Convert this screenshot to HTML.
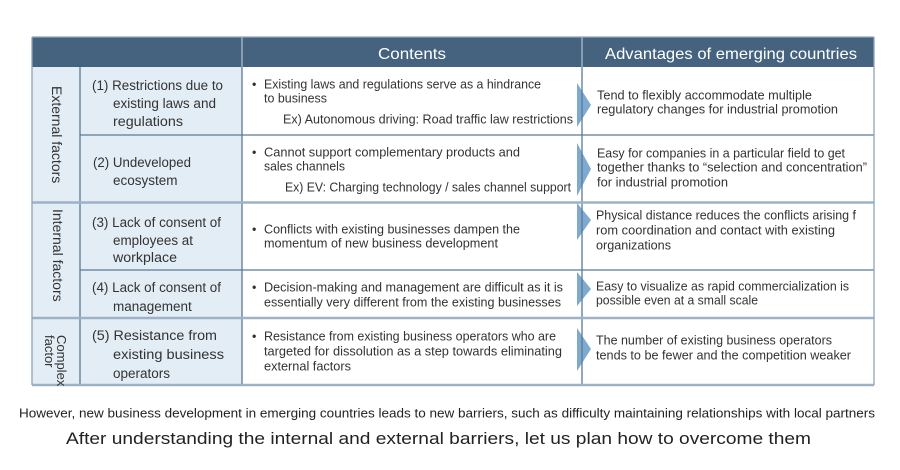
<!DOCTYPE html>
<html>
<head>
<meta charset="utf-8">
<style>
html,body{margin:0;padding:0;background:#fff;}
svg{display:block;}
text{font-family:"Liberation Sans", sans-serif;fill:#333;}
.h{fill:#ffffff;font-size:16px;}
.c{font-size:13.5px;}
.m{font-size:12.5px;}
.cat{font-size:14px;}
</style>
</head>
<body>
<svg width="900" height="470" viewBox="0 0 900 470" xmlns="http://www.w3.org/2000/svg">
  <!-- backgrounds -->
  <rect x="32" y="37" width="842" height="30" fill="#45637f"/>
  <rect x="32" y="67" width="210" height="318" fill="#e3edf5"/>
  <rect x="242" y="67" width="632" height="318" fill="#ffffff"/>

  <!-- arrows -->
  <g fill="#7eaad0">
    <polygon points="577,83 591,105 577,127"/>
    <polygon points="577,143 591,169 577,196"/>
    <polygon points="577,203 591,220 577,240"/>
    <polygon points="577,272 591,289 577,306"/>
    <polygon points="577,328 591,349 577,371"/>
  </g>

  <!-- header dividers -->
  <line x1="242" y1="37" x2="242" y2="67" stroke="#c9d7e3" stroke-width="1"/>
  <line x1="582" y1="37" x2="582" y2="67" stroke="#c9d7e3" stroke-width="1"/>

  <!-- inner lines (dark) -->
  <g stroke="#5b7a94" stroke-width="1.3">
    <line x1="80" y1="67" x2="80" y2="385"/>
    <line x1="242" y1="67" x2="242" y2="385"/>
    <line x1="582" y1="67" x2="582" y2="385"/>
    <line x1="80" y1="135" x2="874" y2="135"/>
    <line x1="80" y1="270" x2="874" y2="270"/>
  </g>
  <!-- group lines (light, thick) -->
  <g stroke="#9db2c5" stroke-width="2.5">
    <line x1="32" y1="202.5" x2="874" y2="202.5"/>
    <line x1="32" y1="318" x2="874" y2="318"/>
    <line x1="32" y1="385" x2="874" y2="385"/>
  </g>
  <!-- outer border -->
  <g stroke="#8fa6ba" stroke-width="1.3" fill="none">
    <line x1="32" y1="37" x2="874" y2="37"/>
    <line x1="32" y1="37" x2="32" y2="385"/>
    <line x1="874" y1="37" x2="874" y2="385"/>
  </g>

  <!-- header text -->
  <text class="h" x="378" y="59" textLength="68" lengthAdjust="spacingAndGlyphs">Contents</text>
  <text class="h" x="605" y="59" textLength="252" lengthAdjust="spacingAndGlyphs">Advantages of emerging countries</text>

  <!-- category (vertical) -->
  <text class="cat" transform="translate(52,86) rotate(90)">External factors</text>
  <text class="cat" transform="translate(53,209) rotate(90)">Internal factors</text>
  <text style="font-size:13px" transform="translate(57,335) rotate(90)">Complex</text>
  <text style="font-size:13px" transform="translate(45,335) rotate(90)">factor</text>

  <!-- column 2 -->
  <text class="c" x="92" y="90" textLength="131" lengthAdjust="spacingAndGlyphs">(1) Restrictions due to</text>
  <text class="c" x="113" y="108" textLength="103" lengthAdjust="spacingAndGlyphs">existing laws and</text>
  <text class="c" x="113" y="126" textLength="70" lengthAdjust="spacingAndGlyphs">regulations</text>

  <text class="c" x="93" y="167" textLength="98" lengthAdjust="spacingAndGlyphs">(2) Undeveloped</text>
  <text class="c" x="113" y="185">ecosystem</text>

  <text class="c" x="92" y="227" textLength="129" lengthAdjust="spacingAndGlyphs">(3) Lack of consent of</text>
  <text class="c" x="113" y="245" textLength="80" lengthAdjust="spacingAndGlyphs">employees at</text>
  <text class="c" x="113" y="262" textLength="64" lengthAdjust="spacingAndGlyphs">workplace</text>

  <text class="c" x="92" y="292" textLength="129" lengthAdjust="spacingAndGlyphs">(4) Lack of consent of</text>
  <text class="c" x="113" y="311">management</text>

  <text class="c" x="92" y="340" textLength="125" lengthAdjust="spacingAndGlyphs">(5) Resistance from</text>
  <text class="c" x="113" y="359" textLength="111" lengthAdjust="spacingAndGlyphs">existing business</text>
  <text class="c" x="113" y="378">operators</text>

  <!-- column 3 (contents) -->
  <text class="m" x="252" y="88.5">•</text>
  <text class="m" x="264" y="88.5" textLength="277" lengthAdjust="spacingAndGlyphs">Existing laws and regulations serve as a hindrance</text>
  <text class="m" x="264" y="102.5" textLength="63" lengthAdjust="spacingAndGlyphs">to business</text>
  <text class="m" x="283" y="123.5" textLength="290" lengthAdjust="spacingAndGlyphs">Ex) Autonomous driving: Road traffic law restrictions</text>

  <text class="m" x="252" y="156.5">•</text>
  <text class="m" x="264" y="156.5" textLength="256" lengthAdjust="spacingAndGlyphs">Cannot support complementary products and</text>
  <text class="m" x="264" y="170.5" textLength="81" lengthAdjust="spacingAndGlyphs">sales channels</text>
  <text class="m" x="285" y="191.5" textLength="286" lengthAdjust="spacingAndGlyphs">Ex) EV: Charging technology / sales channel support</text>

  <text class="m" x="252" y="233.5">•</text>
  <text class="m" x="264" y="233.5" textLength="256" lengthAdjust="spacingAndGlyphs">Conflicts with existing businesses dampen the</text>
  <text class="m" x="264" y="247.5" textLength="234" lengthAdjust="spacingAndGlyphs">momentum of new business development</text>

  <text class="m" x="252" y="291.5">•</text>
  <text class="m" x="264" y="291.5" textLength="299" lengthAdjust="spacingAndGlyphs">Decision-making and management are difficult as it is</text>
  <text class="m" x="264" y="306.5" textLength="297" lengthAdjust="spacingAndGlyphs">essentially very different from the existing businesses</text>

  <text class="m" x="252" y="340.5">•</text>
  <text class="m" x="264" y="340.5" textLength="292" lengthAdjust="spacingAndGlyphs">Resistance from existing business operators who are</text>
  <text class="m" x="264" y="355.5" textLength="298" lengthAdjust="spacingAndGlyphs">targeted for dissolution as a step towards eliminating</text>
  <text class="m" x="264" y="370.5" textLength="87" lengthAdjust="spacingAndGlyphs">external factors</text>

  <!-- column 4 (advantages) -->
  <text class="m" x="597" y="99.5" textLength="215" lengthAdjust="spacingAndGlyphs">Tend to flexibly accommodate multiple</text>
  <text class="m" x="597" y="113.5" textLength="241" lengthAdjust="spacingAndGlyphs">regulatory changes for industrial promotion</text>

  <text class="m" x="597" y="157.5" textLength="248" lengthAdjust="spacingAndGlyphs">Easy for companies in a particular field to get</text>
  <text class="m" x="597" y="171.5" textLength="270" lengthAdjust="spacingAndGlyphs">together thanks to “selection and concentration”</text>
  <text class="m" x="597" y="186.5" textLength="131" lengthAdjust="spacingAndGlyphs">for industrial promotion</text>

  <text class="m" x="596" y="219.5" textLength="260" lengthAdjust="spacingAndGlyphs">Physical distance reduces the conflicts arising f</text>
  <text class="m" x="596" y="234.5" textLength="239" lengthAdjust="spacingAndGlyphs">rom coordination and contact with existing</text>
  <text class="m" x="596" y="249.5" textLength="75" lengthAdjust="spacingAndGlyphs">organizations</text>

  <text class="m" x="596" y="290.5" textLength="253" lengthAdjust="spacingAndGlyphs">Easy to visualize as rapid commercialization is</text>
  <text class="m" x="596" y="304.5" textLength="162" lengthAdjust="spacingAndGlyphs">possible even at a small scale</text>

  <text class="m" x="596" y="344.5" textLength="236" lengthAdjust="spacingAndGlyphs">The number of existing business operators</text>
  <text class="m" x="596" y="359.5" textLength="255" lengthAdjust="spacingAndGlyphs">tends to be fewer and the competition weaker</text>

  <!-- bottom text -->
  <text x="19" y="417.5" style="font-size:12.5px;fill:#222;" textLength="856" lengthAdjust="spacingAndGlyphs">However, new business development in emerging countries leads to new barriers, such as difficulty maintaining relationships with local partners</text>
  <text x="66" y="444" style="font-size:17px;fill:#222;" textLength="745" lengthAdjust="spacingAndGlyphs">After understanding the internal and external barriers, let us  plan how to overcome them</text>
</svg>
</body>
</html>
